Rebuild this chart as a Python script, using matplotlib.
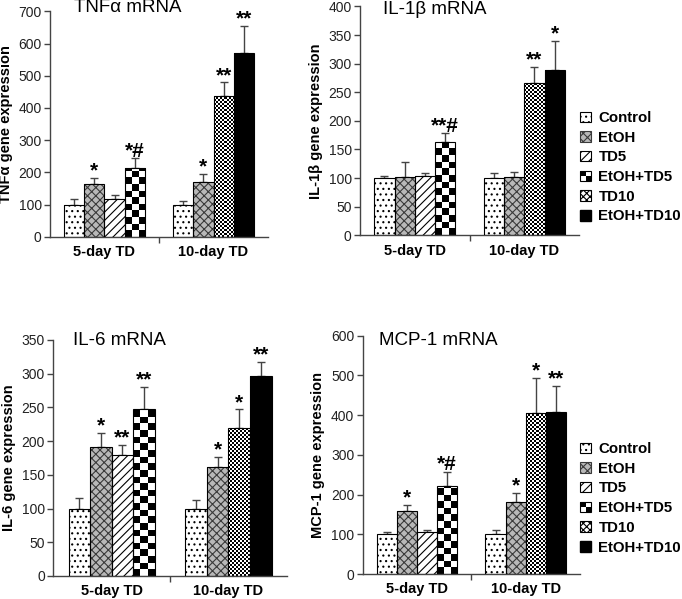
import numpy as np
import matplotlib
matplotlib.use("Agg")
import matplotlib.pyplot as plt
from matplotlib.patches import Patch, Rectangle
from matplotlib.legend_handler import HandlerBase

plt.rcParams['font.family'] = ['Liberation Sans', 'DejaVu Sans']
plt.rcParams['hatch.linewidth'] = 0.8

# ---------------- data ----------------
groups = ["5-day TD", "10-day TD"]
series_5d = ["Control", "EtOH", "TD5", "EtOH+TD5"]
series_10d = ["Control", "EtOH", "TD10", "EtOH+TD10"]
legend_names = ["Control", "EtOH", "TD5", "EtOH+TD5", "TD10", "EtOH+TD10"]

tnf_5d = [100, 164, 118, 213]
tnf_5d_err = [16, 19, 12, 30]
tnf_10d = [100, 171, 437, 570]
tnf_10d_err = [10, 23, 42, 85]
tnf_sig_5d = ["", "*", "", "*#"]
tnf_sig_10d = ["", "*", "**", "**"]

il1b_5d = [100, 102, 104, 163]
il1b_5d_err = [4, 26, 5, 15]
il1b_10d = [100, 102, 267, 289]
il1b_10d_err = [9, 9, 27, 51]
il1b_sig_5d = ["", "", "", "**#"]
il1b_sig_10d = ["", "", "**", "*"]

il6_5d = [100, 191, 179, 248]
il6_5d_err = [16, 21, 16, 32]
il6_10d = [100, 162, 219, 297]
il6_10d_err = [12, 15, 28, 20]
il6_sig_5d = ["", "*", "**", "**"]
il6_sig_10d = ["", "*", "*", "**"]

mcp_5d = [101, 159, 107, 221]
mcp_5d_err = [4, 15, 5, 37]
mcp_10d = [102, 181, 405, 408]
mcp_10d_err = [10, 24, 88, 65]
mcp_sig_5d = ["", "*", "", "*#"]
mcp_sig_10d = ["", "*", "*", "**"]

# ---------------- styles ----------------
STY = {
    "Control": dict(kind="hatch", face="white", hatch="...", hc="black"),
    "EtOH": dict(kind="hatch", face="#b8b8b8", hatch="xxxx", hc="#3a3a3a"),
    "TD5": dict(kind="hatch", face="white", hatch="////", hc="black"),
    "EtOH+TD5": dict(kind="checker", sq=6.6),
    "TD10": dict(kind="checker", sq=2.0),
    "EtOH+TD10": dict(kind="solid", face="black"),
}

W = 0.185
OFFS = np.array([-1.5, -0.5, 0.5, 1.5]) * W

fig = plt.figure(figsize=(6.82, 5.99), dpi=100)


def checker(ax, x0, y0, w, h, sq):
    p0 = ax.transData.transform((x0, y0))
    p1 = ax.transData.transform((x0 + w, y0 + h))
    wpx, hpx = p1 - p0
    nx = max(1, int(round(wpx / sq)))
    sqy = sq * h / hpx
    ny = int(np.ceil(h / sqy))
    arr = (np.add.outer(np.arange(ny)[::-1], np.arange(nx)) % 2).astype(float)
    rect = Rectangle((x0, y0), w, h, transform=ax.transData, facecolor='none', edgecolor='none')
    ax.add_patch(rect)
    im = ax.imshow(arr, cmap='gray', vmin=0, vmax=1, extent=(x0, x0 + w, y0, y0 + ny * sqy),
                   origin='upper', aspect='auto', interpolation='nearest', zorder=2.1)
    im.set_clip_path(rect)


def panel(rect, ylim, yticks, title, tpos, ylabel, data):
    ax = fig.add_axes(rect)
    ax.set_xlim(-0.5, 1.5)
    ax.set_ylim(*ylim)
    for gi, (names, vals, errs, sigs) in enumerate(data):
        xs = gi + OFFS
        for x, n, v in zip(xs, names, vals):
            s = STY[n]
            if s["kind"] == "hatch":
                ax.bar(x, v, W, color=s["face"], edgecolor=s["hc"], hatch=s["hatch"], lw=0, zorder=2)
            elif s["kind"] == "solid":
                ax.bar(x, v, W, color=s["face"], lw=0, zorder=2)
            else:
                checker(ax, x - W / 2, 0, W, v, s["sq"])
            ax.bar(x, v, W, fill=False, edgecolor="black", lw=0.8, zorder=3)
        ax.errorbar(xs, vals, yerr=[np.zeros(len(errs)), errs], fmt='none', ecolor='#444444',
                    elinewidth=1, capsize=3, capthick=1, zorder=1.5)
        for x, v, e, s in zip(xs, vals, errs, sigs):
            if s:
                ax.annotate(s, (x, v + e), xytext=(0, 1), textcoords='offset points',
                            ha='center', va='baseline', fontsize=15, fontweight='bold')
    ax.set_xlim(-0.5, 1.5)
    ax.set_ylim(*ylim)
    ax.set_yticks(yticks)
    ax.set_xticks([0, 1])
    ax.set_xticklabels(groups, fontsize=10.5, fontweight='bold')
    ax.set_xticks([0.5], minor=True)
    ax.tick_params(axis='x', which='major', length=0, pad=6)
    ax.tick_params(axis='x', which='minor', length=4, width=1, color='#444444')
    ax.tick_params(axis='y', length=4, width=1, color='#444444', labelsize=10, labelcolor='#222222', pad=2)
    for sp in ['top', 'right']:
        ax.spines[sp].set_visible(False)
    for sp in ['left', 'bottom']:
        ax.spines[sp].set_color('#444444')
        ax.spines[sp].set_linewidth(1)
    ax.set_ylabel(ylabel, fontsize=10.5, fontweight='bold', labelpad=4)
    ax.text(tpos[0], tpos[1], title, transform=ax.transAxes, fontsize=13.5, ha='left', va='center')
    return ax


class CheckerHandler(HandlerBase):
    def create_artists(self, legend, orig_handle, xdescent, ydescent, width, height, fontsize, trans):
        x0, y0 = -xdescent, -ydescent
        a = Rectangle((x0, y0), width, height, facecolor='white', edgecolor='black', lw=0.8, transform=trans)
        b = Rectangle((x0, y0 + height / 2), width / 2, height / 2, facecolor='black', lw=0, transform=trans)
        c = Rectangle((x0 + width / 2, y0), width / 2, height / 2, facecolor='black', lw=0, transform=trans)
        return [a, b, c]


def add_legend(anchor):
    handles = []
    hmap = {}
    for n in legend_names:
        s = STY[n]
        if s["kind"] == "hatch":
            handles.append(Patch(facecolor=s["face"], edgecolor=s["hc"], hatch=s["hatch"], lw=0.8))
        elif s["kind"] == "solid":
            handles.append(Patch(facecolor='black', edgecolor='black'))
        elif n == "TD10":
            handles.append(Patch(facecolor='white', edgecolor='black', hatch='xxxxx', lw=0.8))
        else:
            p = Patch(facecolor='white', edgecolor='black')
            hmap[p] = CheckerHandler()
            handles.append(p)
    fig.legend(handles, legend_names, loc='upper left', bbox_to_anchor=anchor,
               bbox_transform=fig.transFigure, frameon=False,
               prop=dict(weight='bold', size=10.8), handlelength=0.7, handleheight=0.7,
               handletextpad=0.5, labelspacing=0.38, borderpad=0, borderaxespad=0,
               handler_map=hmap)


panel([0.0733, 0.6048, 0.3197, 0.3763], (0, 700), range(0, 701, 100), "TNF\u03b1 mRNA", (0.11, 1.015),
      "TNF\u03b1 gene expression",
      [(series_5d, tnf_5d, tnf_5d_err, tnf_sig_5d), (series_10d, tnf_10d, tnf_10d_err, tnf_sig_10d)])
panel([0.5279, 0.6072, 0.3211, 0.3820], (0, 400), range(0, 401, 50), "IL-1\u03b2 mRNA", (0.105, 0.985),
      "IL-1\u03b2 gene expression",
      [(series_5d, il1b_5d, il1b_5d_err, il1b_sig_5d), (series_10d, il1b_10d, il1b_10d_err, il1b_sig_10d)])
panel([0.0782, 0.0384, 0.3422, 0.3940], (0, 350), range(0, 351, 50), "IL-6 mRNA", (0.083, 0.996),
      "IL-6 gene expression",
      [(series_5d, il6_5d, il6_5d_err, il6_sig_5d), (series_10d, il6_10d, il6_10d_err, il6_sig_10d)])
panel([0.5318, 0.0417, 0.3186, 0.3979], (0, 600), range(0, 601, 100), "MCP-1 mRNA", (0.076, 0.979),
      "MCP-1 gene expression",
      [(series_5d, mcp_5d, mcp_5d_err, mcp_sig_5d), (series_10d, mcp_10d, mcp_10d_err, mcp_sig_10d)])

add_legend((0.851, 1 - 111 / 599))
add_legend((0.851, 1 - 442 / 599))

fig.savefig("out.png", dpi=100)
